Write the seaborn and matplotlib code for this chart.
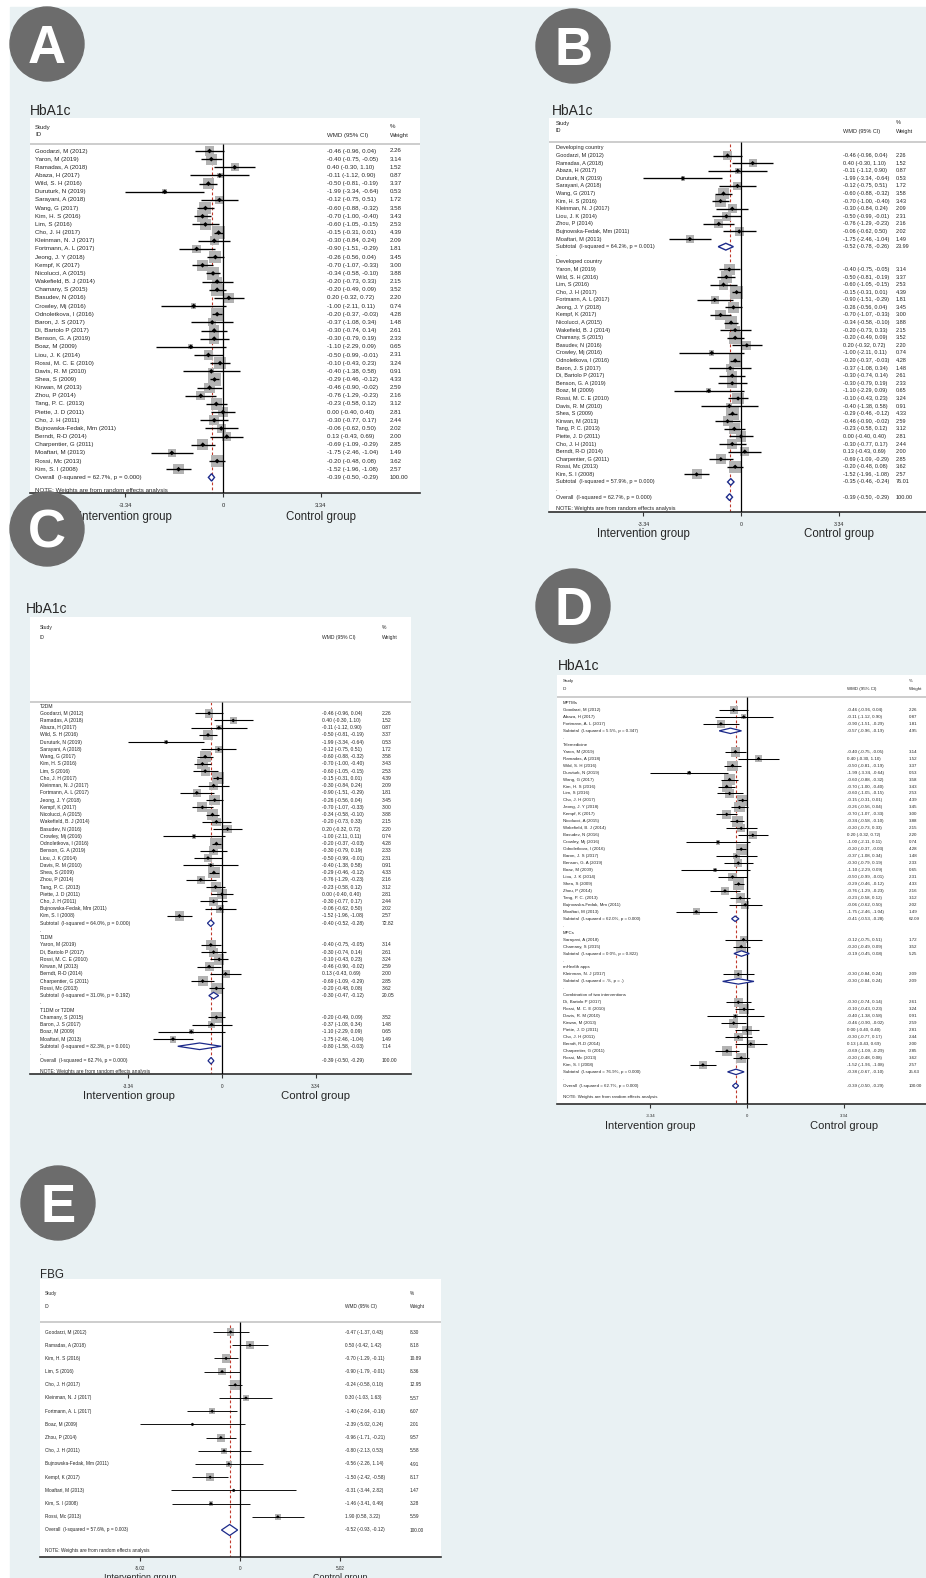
import matplotlib
matplotlib.use("Agg")
import matplotlib.pyplot as plt
from matplotlib.patches import Ellipse, Rectangle
import numpy as np
import pandas as pd
import seaborn as sns

W, H = 926, 1578

# ---------------- HbA1c: all 40 trials, in panel A order ----------------
studies = ["Goodarzi, M (2012)", "Yaron, M (2019)", "Ramadas, A (2018)", "Abaza, H (2017)",
           "Wild, S. H (2016)", "Duruturk, N (2019)", "Sarayani, A (2018)", "Wang, G (2017)",
           "Kim, H. S (2016)", "Lim, S (2016)", "Cho, J. H (2017)", "Kleinman, N. J (2017)",
           "Fortmann, A. L (2017)", "Jeong, J. Y (2018)", "Kempf, K (2017)", "Nicolucci, A (2015)",
           "Wakefield, B. J (2014)", "Chamany, S (2015)", "Basudev, N (2016)", "Crowley, Mj (2016)",
           "Odnoletkova, I (2016)", "Baron, J. S (2017)", "Di, Bartolo P (2017)", "Benson, G. A (2019)",
           "Boaz, M (2009)", "Liou, J. K (2014)", "Rossi, M. C. E (2010)", "Davis, R. M (2010)",
           "Shea, S (2009)", "Kirwan, M (2013)", "Zhou, P (2014)", "Tang, P. C. (2013)",
           "Piette, J. D (2011)", "Cho, J. H (2011)", "Bujnowska-Fedak, Mm (2011)", "Berndt, R-D (2014)",
           "Charpentier, G (2011)", "Moaftari, M (2013)", "Rossi, Mc (2013)", "Kim, S. I (2008)"]
wmd = [-0.46, -0.40, 0.40, -0.11, -0.50, -1.99, -0.12, -0.60, -0.70, -0.60, -0.15, -0.30,
       -0.90, -0.26, -0.70, -0.34, -0.20, -0.20, 0.20, -1.00, -0.20, -0.37, -0.30, -0.30,
       -1.10, -0.50, -0.10, -0.40, -0.29, -0.46, -0.76, -0.23, 0.00, -0.30, -0.06, 0.13,
       -0.69, -1.75, -0.20, -1.52]
ci_low = [-0.96, -0.75, -0.30, -1.12, -0.81, -3.34, -0.75, -0.88, -1.00, -1.05, -0.31, -0.84,
          -1.51, -0.56, -1.07, -0.58, -0.73, -0.49, -0.32, -2.11, -0.37, -1.08, -0.74, -0.79,
          -2.29, -0.99, -0.43, -1.38, -0.46, -0.90, -1.29, -0.58, -0.40, -0.77, -0.62, -0.43,
          -1.09, -2.46, -0.48, -1.96]
ci_high = [0.04, -0.05, 1.10, 0.90, -0.19, -0.64, 0.51, -0.32, -0.40, -0.15, 0.01, 0.24,
           -0.29, 0.04, -0.33, -0.10, 0.33, 0.09, 0.72, 0.11, -0.03, 0.34, 0.14, 0.19,
           0.09, -0.01, 0.23, 0.58, -0.12, -0.02, -0.23, 0.12, 0.40, 0.17, 0.50, 0.69,
           -0.29, -1.04, 0.08, -1.08]
weights = [2.26, 3.14, 1.52, 0.87, 3.37, 0.53, 1.72, 3.58, 3.43, 2.53, 4.39, 2.09,
           1.81, 3.45, 3.00, 3.88, 2.15, 3.52, 2.20, 0.74, 4.28, 1.48, 2.61, 2.33,
           0.65, 2.31, 3.24, 0.91, 4.33, 2.59, 2.16, 3.12, 2.81, 2.44, 2.02, 2.00,
           2.85, 1.49, 3.62, 2.57]
overall_hba1c = [-0.39, -0.50, -0.29]
overall_hba1c_het = ["62.7", "0.000"]

# ---------------- B: by country ----------------
b_groups = ["Developing country", "Developed country"]
b_members = [
    ["Goodarzi, M (2012)", "Ramadas, A (2018)", "Abaza, H (2017)", "Duruturk, N (2019)",
     "Sarayani, A (2018)", "Wang, G (2017)", "Kim, H. S (2016)", "Kleinman, N. J (2017)",
     "Liou, J. K (2014)", "Zhou, P (2014)", "Bujnowska-Fedak, Mm (2011)", "Moaftari, M (2013)"],
    ["Yaron, M (2019)", "Wild, S. H (2016)", "Lim, S (2016)", "Cho, J. H (2017)",
     "Fortmann, A. L (2017)", "Jeong, J. Y (2018)", "Kempf, K (2017)", "Nicolucci, A (2015)",
     "Wakefield, B. J (2014)", "Chamany, S (2015)", "Basudev, N (2016)", "Crowley, Mj (2016)",
     "Odnoletkova, I (2016)", "Baron, J. S (2017)", "Di, Bartolo P (2017)", "Benson, G. A (2019)",
     "Boaz, M (2009)", "Rossi, M. C. E (2010)", "Davis, R. M (2010)", "Shea, S (2009)",
     "Kirwan, M (2013)", "Tang, P. C. (2013)", "Piette, J. D (2011)", "Cho, J. H (2011)",
     "Berndt, R-D (2014)", "Charpentier, G (2011)", "Rossi, Mc (2013)", "Kim, S. I (2008)"]]
b_sub_est = [-0.52, -0.35]
b_sub_low = [-0.78, -0.46]
b_sub_high = [-0.26, -0.24]
b_sub_w = [23.99, 76.01]
b_sub_i2 = ["64.2", "57.9"]
b_sub_p = ["0.001", "0.000"]

# ---------------- C: by diabetes type ----------------
c_groups = ["T2DM", "T1DM", "T1DM or T2DM"]
c_members = [
    ["Goodarzi, M (2012)", "Ramadas, A (2018)", "Abaza, H (2017)", "Wild, S. H (2016)",
     "Duruturk, N (2019)", "Sarayani, A (2018)", "Wang, G (2017)", "Kim, H. S (2016)",
     "Lim, S (2016)", "Cho, J. H (2017)", "Kleinman, N. J (2017)", "Fortmann, A. L (2017)",
     "Jeong, J. Y (2018)", "Kempf, K (2017)", "Nicolucci, A (2015)", "Wakefield, B. J (2014)",
     "Basudev, N (2016)", "Crowley, Mj (2016)", "Odnoletkova, I (2016)", "Benson, G. A (2019)",
     "Liou, J. K (2014)", "Davis, R. M (2010)", "Shea, S (2009)", "Zhou, P (2014)",
     "Tang, P. C. (2013)", "Piette, J. D (2011)", "Cho, J. H (2011)",
     "Bujnowska-Fedak, Mm (2011)", "Kim, S. I (2008)"],
    ["Yaron, M (2019)", "Di, Bartolo P (2017)", "Rossi, M. C. E (2010)", "Kirwan, M (2013)",
     "Berndt, R-D (2014)", "Charpentier, G (2011)", "Rossi, Mc (2013)"],
    ["Chamany, S (2015)", "Baron, J. S (2017)", "Boaz, M (2009)", "Moaftari, M (2013)"]]
c_sub_est = [-0.40, -0.30, -0.80]
c_sub_low = [-0.52, -0.47, -1.58]
c_sub_high = [-0.28, -0.12, -0.03]
c_sub_w = [72.82, 20.05, 7.14]
c_sub_i2 = ["64.0", "31.0", "82.3"]
c_sub_p = ["0.000", "0.192", "0.001"]

# ---------------- D: by intervention ----------------
d_groups = ["MPTMs", "Telemedicine", "MPCs", "mHealth apps", "Combination of two interventions"]
d_members = [
    ["Goodarzi, M (2012)", "Abaza, H (2017)", "Fortmann, A. L (2017)"],
    ["Yaron, M (2019)", "Ramadas, A (2018)", "Wild, S. H (2016)", "Duruturk, N (2019)",
     "Wang, G (2017)", "Kim, H. S (2016)", "Lim, S (2016)", "Cho, J. H (2017)",
     "Jeong, J. Y (2018)", "Kempf, K (2017)", "Nicolucci, A (2015)", "Wakefield, B. J (2014)",
     "Basudev, N (2016)", "Crowley, Mj (2016)", "Odnoletkova, I (2016)", "Baron, J. S (2017)",
     "Benson, G. A (2019)", "Boaz, M (2009)", "Liou, J. K (2014)", "Shea, S (2009)",
     "Zhou, P (2014)", "Tang, P. C. (2013)", "Bujnowska-Fedak, Mm (2011)", "Moaftari, M (2013)"],
    ["Sarayani, A (2018)", "Chamany, S (2015)"],
    ["Kleinman, N. J (2017)"],
    ["Di, Bartolo P (2017)", "Rossi, M. C. E (2010)", "Davis, R. M (2010)", "Kirwan, M (2013)",
     "Piette, J. D (2011)", "Cho, J. H (2011)", "Berndt, R-D (2014)", "Charpentier, G (2011)",
     "Rossi, Mc (2013)", "Kim, S. I (2008)"]]
d_sub_est = [-0.57, -0.41, -0.19, -0.30, -0.38]
d_sub_low = [-0.96, -0.53, -0.45, -0.84, -0.67]
d_sub_high = [-0.19, -0.28, 0.08, 0.24, -0.10]
d_sub_w = [4.95, 62.09, 5.25, 2.09, 25.63]
d_sub_i2 = ["5.5", "62.0", "0.0", ".", "76.9"]
d_sub_p = ["0.347", "0.000", "0.822", ".", "0.000"]

# ---------------- E: FBG ----------------
e_studies = ["Goodarzi, M (2012)", "Ramadas, A (2018)", "Kim, H. S (2016)", "Lim, S (2016)",
             "Cho, J. H (2017)", "Kleinman, N. J (2017)", "Fortmann, A. L (2017)", "Boaz, M (2009)",
             "Zhou, P (2014)", "Cho, J. H (2011)", "Bujnowska-Fedak, Mm (2011)", "Kempf, K (2017)",
             "Moaftari, M (2013)", "Kim, S. I (2008)", "Rossi, Mc (2013)"]
e_wmd = [-0.47, 0.50, -0.70, -0.90, -0.24, 0.30, -1.40, -2.39, -0.96, -0.80, -0.56, -1.50,
         -0.31, -1.46, 1.90]
e_low = [-1.37, -0.42, -1.29, -1.79, -0.58, -1.03, -2.64, -5.02, -1.71, -2.13, -2.26, -2.42,
         -3.44, -3.41, 0.58]
e_high = [0.43, 1.42, -0.11, -0.01, 0.10, 1.63, -0.16, 0.24, -0.21, 0.53, 1.14, -0.58,
          2.82, 0.49, 3.22]
e_weights = [8.30, 8.18, 10.89, 8.36, 12.95, 5.57, 6.07, 2.01, 9.57, 5.58, 4.91, 8.17,
             1.47, 3.28, 5.59]
overall_fbg = [-0.52, -0.93, -0.12]
overall_fbg_het = ["57.6", "0.003"]

NAVY = "#1c2a8a"
BG = "#e9f1f3"

sns.set_style("white")
plt.rcParams["font.family"] = ["Liberation Sans", "DejaVu Sans"]


def study_row(name, est, lo, hi, w):
    return dict(kind="study", label=name, est=est, lo=lo, hi=hi, w=w)


def overall_row(vals, het):
    return dict(kind="overall", label=f"Overall  (I-squared = {het[0]}%, p = {het[1]})",
                est=vals[0], lo=vals[1], hi=vals[2], w=100.0)


def grouped(groups, members, s_est, s_low, s_high, s_w, s_i2, s_p):
    rows = []
    for g, names, e, lo, hi, w, i2, p in zip(groups, members, s_est, s_low, s_high, s_w, s_i2, s_p):
        rows.append(dict(kind="head", label=g))
        for n in names:
            i = studies.index(n)
            rows.append(study_row(n, wmd[i], ci_low[i], ci_high[i], weights[i]))
        rows.append(dict(kind="sub", label=f"Subtotal  (I-squared = {i2}%, p = {p})",
                         est=e, lo=lo, hi=hi, w=w))
        rows.append(dict(kind="dot", label="."))
    rows.append(overall_row(overall_hba1c, overall_hba1c_het))
    df = pd.DataFrame(rows)
    df["row"] = np.arange(len(df))
    return df


def flat(names, est, lo, hi, w, ov, het):
    rows = [study_row(*r) for r in zip(names, est, lo, hi, w)]
    rows.append(overall_row(ov, het))
    df = pd.DataFrame(rows)
    df["row"] = np.arange(len(df))
    return df


fig = plt.figure(figsize=(W / 100, H / 100), dpi=100)
fig.add_artist(Rectangle((10 / W, 0), 1 - 10 / W, 1 - 7 / H, transform=fig.transFigure,
                         color=BG, zorder=0))


def forest(df, sp):
    l, t, r, b = sp["box"]
    ax = fig.add_axes([l / W, 1 - b / H, (r - l) / W, (b - t) / H])
    ax.set_facecolor("white")
    xd = lambda px: (px - sp["zero"]) / sp["scale"]
    yr = lambda py: (py - sp["y0"]) / sp["dy"]
    fs = sp["fs"]

    st = df[df.kind == "study"].reset_index(drop=True)
    ax.hlines(st.row, st.lo, st.hi, color="black", lw=sp["lw"], zorder=4)
    # box area proportional to the study weight
    sns.scatterplot(x=st.est, y=st.row, s=sp["k"] * st.w, marker="s", color="#b3b3b3",
                    edgecolor="none", legend=False, ax=ax, zorder=2)
    sns.scatterplot(x=st.est, y=st.row, marker="D", s=sp["dot"], color="black",
                    edgecolor="none", legend=False, ax=ax, zorder=5)
    hh = sp["dh"] / sp["dy"]
    for _, d in df[df.kind.isin(["sub", "overall"])].iterrows():
        ax.fill([d.lo, d.est, d.hi, d.est], [d.row, d.row - hh, d.row, d.row + hh],
                facecolor="white", edgecolor=NAVY, lw=sp["dlw"], zorder=6)

    ov = df[df.kind == "overall"].iloc[0]
    ax.axhline(yr(sp["sep"]), color="#c9c9c9", lw=1.3)
    ax.vlines(0, yr(sp["sep"]), yr(b), color="black", lw=0.9, zorder=3)
    ax.vlines(ov.est, -0.5, yr(b), color="#c0392b", lw=0.8, linestyles=(0, (2.5, 2)), zorder=1)

    c0, c1, c2 = (xd(c) for c in sp["cols"])
    for _, d in df.iterrows():
        ax.text(c0, d.row, d.label, fontsize=fs, va="center", ha="left")
        if d.kind in ("study", "sub", "overall"):
            ax.text(c1, d.row, f"{d.est:.2f} ({d.lo:.2f}, {d.hi:.2f})", fontsize=fs, va="center")
            ax.text(c2, d.row, f"{d.w:.2f}", fontsize=fs, va="center")
    ax.text(c0, yr(sp["study_y"]), "Study", fontsize=fs, va="center")
    ax.text(c0, yr(sp["id_y"]), "ID", fontsize=fs, va="center")
    ax.text(c1, yr(sp["id_y"]), "WMD (95% CI)", fontsize=fs, va="center")
    ax.text(c2, yr(sp["study_y"]), "%", fontsize=fs, va="center")
    ax.text(c2, yr(sp["id_y"]), "Weight", fontsize=fs, va="center")
    ax.text(c0, ov.row + 1.55, "NOTE: Weights are from random effects analysis", fontsize=fs,
            va="center")

    ax.set_xlim(xd(l), xd(r))
    ax.set_ylim(yr(b), yr(t))
    ax.set_xlabel("")
    ax.set_ylabel("")
    ax.set_yticks([])
    tk = sp["ticks"]
    ax.set_xticks([-tk, 0, tk], [f"-{tk:.2f}", "0", f"{tk:.2f}"])
    ax.tick_params(axis="x", length=3, width=0.8, color="#333333", labelsize=sp["tfs"],
                   pad=sp["pad"], bottom=True)
    for s in ("top", "left", "right"):
        ax.spines[s].set_visible(False)
    ax.spines["bottom"].set_color("#2e2e2e")
    ax.spines["bottom"].set_linewidth(1.2)
    ax.text(-tk, yr(sp["grp_y"]), "Intervention group", fontsize=sp["gfs"], ha="center", va="center")
    ax.text(tk, yr(sp["grp_y"]), "Control group", fontsize=sp["gfs"], ha="center", va="center")

    cx, cy = sp["circle"]
    fig.add_artist(Ellipse((cx / W, 1 - cy / H), 74 / W, 74 / H, transform=fig.transFigure,
                           color="#6c6c6c", zorder=1))
    fig.text(cx / W, 1 - (cy + 19) / H, sp["letter"], fontsize=38, fontweight="bold",
             color="white", ha="center", va="baseline")
    fig.text(sp["title_xy"][0] / W, 1 - sp["title_xy"][1] / H, sp["title"], fontsize=sp["title_fs"],
             va="baseline", ha="left")
    return ax


spec_a = dict(box=(30, 118, 420, 493), zero=223, scale=29.25, y0=151, dy=8.16, sep=144,
              study_y=127, id_y=135, cols=(35, 327, 390), fs=4.4, lw=0.95, k=21, dot=6,
              dh=3.7, dlw=1.0, ticks=3.34, tfs=4.2, pad=4.5, grp_y=517, gfs=8.3,
              circle=(47, 44), letter="A", title="HbA1c", title_xy=(30, 115), title_fs=10)
spec_b = dict(box=(549, 118, 926, 512), zero=741, scale=29.2, y0=148, dy=7.59, sep=142,
              study_y=123, id_y=131, cols=(556, 843, 896), fs=4.0, lw=0.95, k=20, dot=5,
              dh=3.4, dlw=1.0, ticks=3.34, tfs=3.8, pad=4.5, grp_y=534, gfs=8.3,
              circle=(573, 46), letter="B", title="HbA1c", title_xy=(552, 115), title_fs=10)
spec_c = dict(box=(30, 617, 411, 1074), zero=222, scale=28, y0=706, dy=7.24, sep=702,
              study_y=627, id_y=637, cols=(40, 322, 382), fs=3.6, lw=0.8, k=17, dot=4,
              dh=3.3, dlw=0.9, ticks=3.34, tfs=3.4, pad=4.2, grp_y=1096, gfs=8.2,
              circle=(47, 529), letter="C", title="HbA1c", title_xy=(26, 613), title_fs=10)
spec_d = dict(box=(557, 675, 926, 1104), zero=747, scale=29, y0=703, dy=6.96, sep=697,
              study_y=681, id_y=689, cols=(563, 847, 909), fs=3.2, lw=0.75, k=15.5, dot=3.5,
              dh=2.7, dlw=0.9, ticks=3.34, tfs=3.1, pad=4.0, grp_y=1126, gfs=8.0,
              circle=(573, 606), letter="D", title="HbA1c", title_xy=(558, 670), title_fs=10)
spec_e = dict(box=(40, 1279, 441, 1557), zero=240, scale=19.92, y0=1332, dy=13.2, sep=1322,
              study_y=1293, id_y=1306, cols=(45, 345, 410), fs=3.4, lw=0.65, k=3.6, dot=3,
              dh=5.5, dlw=0.9, ticks=5.02, tfs=3.3, pad=3.5, grp_y=1577, gfs=6.4,
              circle=(58, 1203), letter="E", title="FBG", title_xy=(40, 1278), title_fs=8.3)

df_a = flat(studies, wmd, ci_low, ci_high, weights, overall_hba1c, overall_hba1c_het)
df_b = grouped(b_groups, b_members, b_sub_est, b_sub_low, b_sub_high, b_sub_w, b_sub_i2, b_sub_p)
df_c = grouped(c_groups, c_members, c_sub_est, c_sub_low, c_sub_high, c_sub_w, c_sub_i2, c_sub_p)
df_d = grouped(d_groups, d_members, d_sub_est, d_sub_low, d_sub_high, d_sub_w, d_sub_i2, d_sub_p)
df_e = flat(e_studies, e_wmd, e_low, e_high, e_weights, overall_fbg, overall_fbg_het)

forest(df_a, spec_a)
forest(df_b, spec_b)
forest(df_c, spec_c)
forest(df_d, spec_d)
forest(df_e, spec_e)

fig.savefig("out.png", dpi=100)
plt.close("all")
